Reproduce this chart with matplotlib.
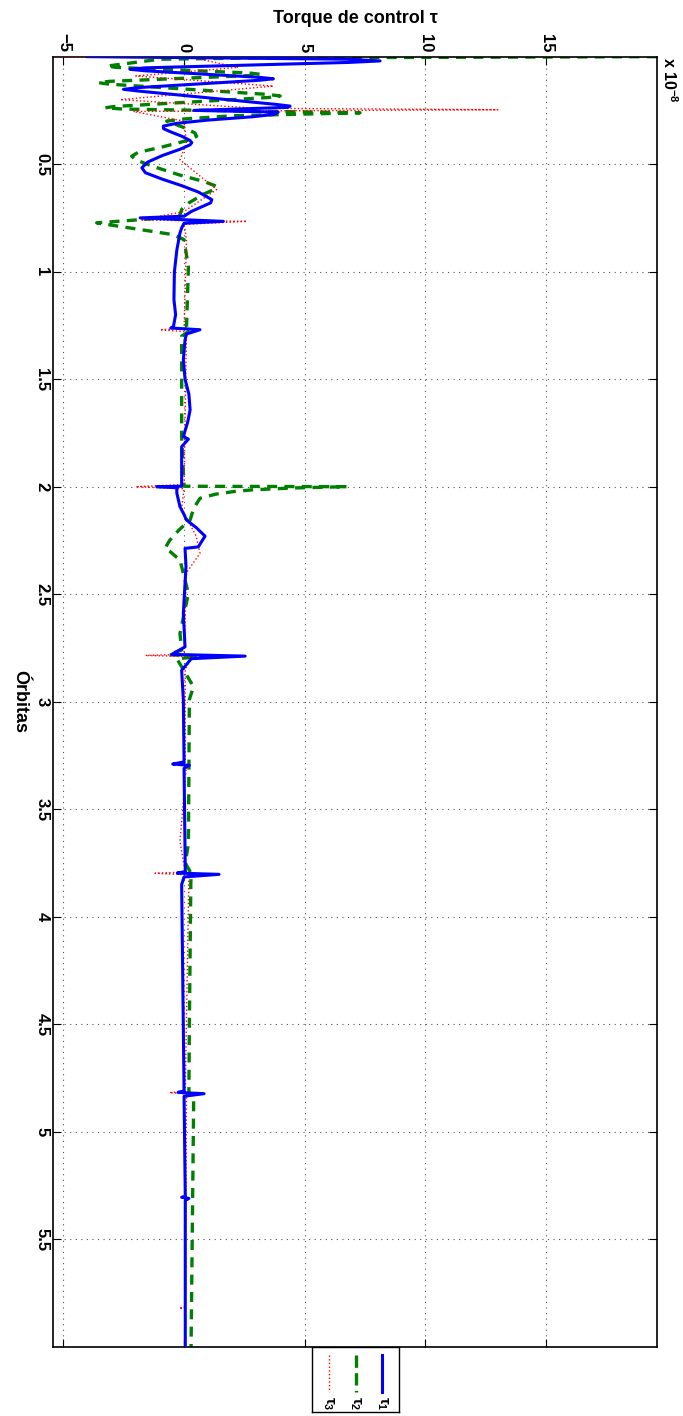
import numpy as np
import matplotlib.pyplot as plt
from matplotlib.lines import Line2D

plt.rcParams['font.family'] = ['Liberation Sans', 'DejaVu Sans']
plt.rcParams['font.weight'] = 'bold'
plt.rcParams['mathtext.fontset'] = 'custom'
plt.rcParams['mathtext.rm'] = 'Liberation Sans:bold'
plt.rcParams['mathtext.it'] = 'Liberation Sans:bold'
plt.rcParams['mathtext.bf'] = 'Liberation Sans:bold'

# torque (x 1e-8) against orbits
orb1 = [0.000, 0.012, 0.020, 0.027, 0.052, 0.059, 0.066, 0.096, 0.103, 0.110,
        0.144, 0.152, 0.160, 0.222, 0.230, 0.236, 0.250, 0.258, 0.269,
        0.280, 0.295, 0.310, 0.323, 0.335, 0.350, 0.370, 0.390, 0.400, 0.410,
        0.430, 0.460, 0.490, 0.517, 0.540, 0.570, 0.600, 0.630, 0.665, 0.680,
        0.700, 0.720, 0.742, 0.750, 0.766, 0.775, 0.797, 0.820, 0.900, 1.000,
        1.130, 1.200, 1.255, 1.262, 1.270, 1.290, 1.317, 1.410, 1.500, 1.570,
        1.643, 1.700, 1.767, 1.779, 1.814, 1.969, 1.998, 2.000, 2.005, 2.030,
        2.093, 2.130, 2.155, 2.190, 2.230, 2.260, 2.280, 2.287, 2.370, 2.590,
        2.745, 2.780, 2.788, 2.800, 2.854, 2.990, 3.280, 3.290, 3.296, 3.310,
        3.790, 3.797, 3.803, 3.815, 3.850, 4.810, 4.817, 4.823, 4.835, 5.300,
        5.305, 5.310, 5.320, 6.000]
tau1 = [-4.0, 6.8, 8.12, 6.8, -1.6, -2.24, -1.6, 3.1, 3.70, 3.1,
        -1.9, -2.51, -1.9, 3.8, 4.39, 4.3, 0.4, 3.9, 3.7,
        2.8, 1.0, -0.3, -0.86, -0.85, -0.55, -0.1, 0.25, 0.32, 0.25,
        -0.15, -0.9, -1.5, -1.75, -1.6, -0.9, -0.1, 0.6, 1.15, 1.1,
        0.7, 0.3, 0.0, -1.82, 1.63, 0.0, -0.1, -0.17, -0.3, -0.4,
        -0.42, -0.35, -0.44, -0.55, 0.66, 0.1, 0.04, -0.03, 0.04, 0.2,
        0.25, 0.15, -0.03, 0.18, -0.1, -0.1, -0.1, -1.13, -0.3, -0.3,
        -0.17, 0.0, 0.1, 0.5, 0.87, 0.7, 0.59, 0.04, 0.08, -0.03,
        0.04, -0.51, 2.53, 0.3, -0.1, -0.03, 0.0, -0.47, 0.22, 0.0,
        0.05, -0.28, 1.45, 0.0, -0.1, 0.0, -0.25, 0.83, 0.0, 0.05,
        -0.1, 0.2, 0.05, 0.05]

orb2 = [0.000, 0.006, 0.012, 0.038, 0.044, 0.050, 0.076, 0.082, 0.088, 0.115,
        0.121, 0.128, 0.176, 0.183, 0.190, 0.232, 0.238, 0.244, 0.261, 0.275,
        0.290, 0.300, 0.330, 0.355, 0.370, 0.385, 0.420, 0.445, 0.463, 0.480,
        0.510, 0.550, 0.580, 0.603, 0.615, 0.640, 0.680, 0.711, 0.745, 0.773,
        0.828, 0.851, 0.980, 1.260, 1.270, 1.300, 1.500, 1.770, 1.998, 2.000,
        2.006, 2.015, 2.023, 2.035, 2.054, 2.100, 2.155, 2.200, 2.250, 2.287,
        2.300, 2.341, 2.497, 2.683, 2.760, 2.782, 2.788, 2.800, 2.930, 2.990,
        3.660, 3.750, 3.800, 3.840, 4.500, 4.820, 4.830, 6.000]
tau2 = [19.58, 3.0, -1.0, -2.8, -3.2, -2.8, 2.7, 3.15, 2.7, -3.1,
        -3.55, -3.1, 3.5, 3.98, 3.5, -2.9, -3.27, -2.5, 7.29, 2.0,
        0.0, -0.72, 0.0, 0.45, 0.52, 0.3, -0.9, -1.9, -2.17, -2.0,
        -1.3, -0.2, 0.8, 1.35, 1.3, 0.8, 0.2, -0.1, -0.2, -3.62,
        -0.44, 0.0, 0.18, 0.1, 0.3, -0.1, -0.1, -0.1, 0.0, 6.74,
        4.5, 2.8, 2.04, 1.3, 0.66, 0.4, 0.25, -0.2, -0.6, -0.79,
        -0.6, -0.17, 0.18, -0.17, -0.1, -0.65, 0.94, -0.3, 0.39, 0.22,
        0.18, 0.05, 0.3, 0.28, 0.22, 0.2, 0.4, 0.29]

orb3 = [0.000, 0.008, 0.050, 0.090, 0.137, 0.200, 0.240, 0.247, 0.255, 0.300,
        0.400, 0.480, 0.618, 0.720, 0.760, 0.766, 0.780, 0.850, 1.265, 1.270,
        1.280, 1.990, 2.000, 2.010, 2.100, 2.230, 2.310, 2.400, 2.780, 2.785,
        2.790, 2.850, 3.283, 3.288, 3.295, 3.650, 3.792, 3.798, 3.805, 4.812,
        4.818, 4.825, 5.815, 5.820, 5.825, 6.000]
tau3 = [-5.41, 0.5, 2.24, -2.0, 3.7, -2.65, 3.0, 13.0, -2.1, 0.0,
        0.1, -0.17, 1.35, 0.0, -1.8, 2.6, 0.0, 0.1, 0.0, -1.0,
        0.1, 0.0, -2.0, 0.0, -0.1, 0.5, 0.66, 0.1, 0.0, -1.6,
        0.3, 0.05, 0.05, -0.51, 0.1, -0.17, 0.05, -1.2, 0.2, 0.05,
        -0.6, 0.1, 0.05, -0.2, 0.05, 0.05]

torque_ticks = [-5, 0, 5, 10, 15]
orbit_ticks = [0.5, 1, 1.5, 2, 2.5, 3, 3.5, 4, 4.5, 5, 5.5]

fig = plt.figure(figsize=(6.83, 14.16), dpi=100)
ax = fig.add_axes([0.0783, 0.0489, 0.8832, 0.9111])

green = (0, 0.5, 0)
ax.plot(tau3, orb3, ':', color='red', lw=1.0, zorder=3)
ax.plot(tau2, orb2, '--', color=green, lw=2.4, dashes=(3, 2.2), zorder=2)
ax.plot(tau1, orb1, '-', color='blue', lw=2.2, zorder=4)

ax.set_xlim(-5.41, 19.58)
ax.set_ylim(6.0, 0.0)
ax.set_xticks(torque_ticks)
ax.set_xticklabels(['\u22125', '0', '5', '10', '15'])
ax.set_yticks(orbit_ticks)
ax.set_yticklabels(['0.5', '1', '1.5', '2', '2.5', '3', '3.5', '4', '4.5', '5', '5.5'])
ax.xaxis.tick_top()
ax.tick_params(axis='both', direction='in', length=6, width=0.8,
               top=True, bottom=True, left=True, right=True,
               labelsize=12, pad=3)
ax.tick_params(axis='x', labelrotation=-90)
ax.tick_params(axis='y', labelrotation=-90)
for lab in ax.get_yticklabels():
    lab.set_va('center')
ax.grid(True, linestyle=(0, (1, 4)), color='#555555', lw=0.8)
for s in ax.spines.values():
    s.set_linewidth(1.2)

fig.text(0.521, 0.987, 'Torque de control \u03c4', ha='center', va='center',
         fontsize=13, fontweight='bold')
fig.text(0.029, 0.5044, '\u00d3rbitas', rotation=270, ha='center', va='center',
         fontsize=13, fontweight='bold')
fig.text(0.967, 0.9595, r'x 10$^{-8}$', rotation=270, ha='left', va='top',
         fontsize=11.5, fontweight='bold')

# legend box below the axes
lg = fig.add_axes([0.4568, 0.0028, 0.1274, 0.0461])
lg.set_xlim(0, 1)
lg.set_ylim(1, 0)
lg.set_xticks([])
lg.set_yticks([])
for s in lg.spines.values():
    s.set_linewidth(1.0)
styles = [('-', 'blue', 2.2, r'$\tau_1$'), ('--', green, 2.4, r'$\tau_2$'),
          (':', 'red', 1.0, r'$\tau_3$')]
for i, (ls, c, w, lab) in enumerate(styles):
    xp = 0.81 - 0.31 * i
    lg.add_line(Line2D([xp, xp], [0.12, 0.70], ls=ls, color=c, lw=w))
    lg.text(xp, 0.76, lab, rotation=270, ha='center', va='top', fontsize=11)

fig.savefig('out.png', dpi=100)
